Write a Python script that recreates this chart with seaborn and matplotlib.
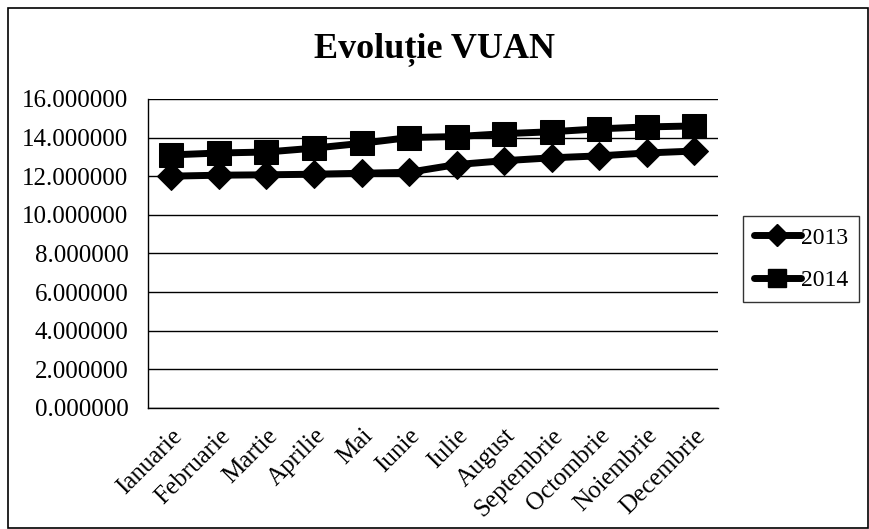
import matplotlib
matplotlib.use("Agg")
import matplotlib.pyplot as plt
import matplotlib.ticker as mticker
import seaborn as sns
import pandas as pd

sns.set_theme(style="white")
plt.rcParams['font.family'] = ['Liberation Serif', 'DejaVu Serif']
plt.rcParams['text.color'] = 'black'

# date
luni = ['Ianuarie', 'Februarie', 'Martie', 'Aprilie', 'Mai', 'Iunie', 'Iulie',
        'August', 'Septembrie', 'Octombrie', 'Noiembrie', 'Decembrie']
vuan_2013 = [12.0, 12.05, 12.07, 12.1, 12.15, 12.2, 12.6, 12.8, 12.95, 13.05, 13.2, 13.3]
vuan_2014 = [13.1, 13.2, 13.25, 13.45, 13.7, 14.0, 14.05, 14.2, 14.3, 14.45, 14.55, 14.6]
ani = ['2013', '2014']

df = pd.DataFrame({
    'Luna': luni * 2,
    'VUAN': vuan_2013 + vuan_2014,
    'An': [ani[0]] * len(luni) + [ani[1]] * len(luni),
})

fig = plt.figure(figsize=(8.69, 5.29), dpi=100)
ax = fig.add_axes([0.170, 0.229, 0.656, 0.584])

sns.lineplot(data=df, x='Luna', y='VUAN', hue='An', style='An',
             palette={'2013': 'black', '2014': 'black'},
             markers={'2013': 'D', '2014': 's'}, dashes=False,
             markersize=14, linewidth=5, sort=False, ax=ax, legend=False)
# marime diferita pentru patrate
for line, ms in zip(ax.get_lines(), [14, 17]):
    line.set_markersize(ms)
    line.set_markeredgecolor('black')

ax.set_ylim(0, 16)
ax.set_xlim(-0.5, 11.5)
ax.yaxis.set_major_locator(mticker.MultipleLocator(2))
ax.yaxis.set_major_formatter(mticker.FuncFormatter(lambda v, p: f'{v:.6f}'))
ax.grid(axis='y', color='black', linewidth=1)
ax.set_axisbelow(True)
for s in ['top', 'right']:
    ax.spines[s].set_visible(False)
for s in ['left', 'bottom']:
    ax.spines[s].set_color('black')
    ax.spines[s].set_linewidth(1)
ax.tick_params(axis='both', length=0, labelsize=18, colors='black')
ax.tick_params(axis='y', pad=14)
ax.tick_params(axis='x', pad=12)
ax.set_xticks(range(len(luni)))
ax.set_xticklabels(luni, rotation=45, ha='right', rotation_mode='anchor')
ax.set_xlabel('')
ax.set_ylabel('')

fig.suptitle('Evoluție VUAN', fontsize=26, fontweight='bold', y=0.94, color='black')

handles = [plt.Line2D([], [], color='black', lw=5, marker='D', ms=11),
           plt.Line2D([], [], color='black', lw=5, marker='s', ms=13)]
leg = fig.legend(handles, ani, loc='center left', bbox_to_anchor=(0.855, 0.51),
                 fontsize=17, frameon=True, fancybox=False, edgecolor='black',
                 handlelength=2.0, handletextpad=0.0, borderpad=0.45,
                 labelspacing=0.9, borderaxespad=0)
leg.get_frame().set_linewidth(1)

# chenarul graficului
fig.patches.append(plt.Rectangle((0.009, 0.002), 0.99, 0.983, transform=fig.transFigure,
                                 fill=False, edgecolor='black', linewidth=1.2))

fig.savefig('out.png', dpi=100)
